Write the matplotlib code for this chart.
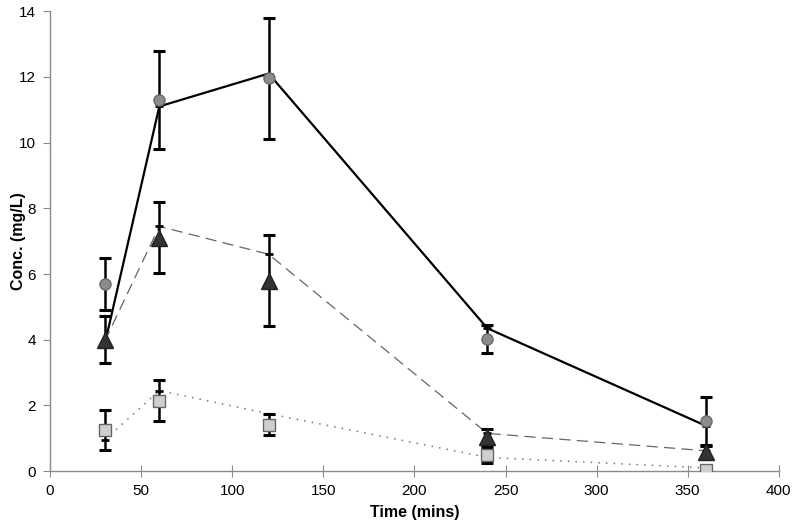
import matplotlib
matplotlib.use("Agg")
import matplotlib.pyplot as plt

plt.rcParams["font.family"] = ["Liberation Sans", "DejaVu Sans"]

# sampling times (mins)
times = [30, 60, 120, 240, 360]

# observed means and SD (circles / triangles / squares)
circ_mean = [5.7, 11.3, 11.95, 4.03, 1.52]
circ_err = [0.8, 1.5, 1.85, 0.42, 0.75]
tri_mean = [4.0, 7.1, 5.8, 1.05, 0.58]
tri_err = [0.72, 1.08, 1.38, 0.24, 0.22]
sq_mean = [1.25, 2.15, 1.42, 0.5, 0.05]
sq_err = [0.6, 0.62, 0.33, 0.25, 0.03]

# fitted curves
fit_solid = [3.85, 11.1, 12.1, 4.35, 1.38]
fit_dash = [3.95, 7.45, 6.6, 1.15, 0.62]
fit_dot = [0.95, 2.45, 1.75, 0.42, 0.1]

fig = plt.figure(figsize=(8.0, 5.3), dpi=100)
ax = fig.add_axes([0.0625, 0.111, 0.911, 0.868])

# fitted lines with small dash markers at each point
ax.plot(times, fit_solid, color="black", lw=1.6, marker="_", ms=6, mew=2, zorder=3)
ax.plot(times, fit_dash, color="#666666", lw=0.9, dashes=(9, 5), marker="_", ms=6, mew=2,
        markeredgecolor="black", zorder=3)
ax.plot(times, fit_dot, color="#777777", lw=1.1, dashes=(1, 4), marker="_", ms=6, mew=2,
        markeredgecolor="black", zorder=3)

# observed data with error bars
eb = dict(ecolor="black", elinewidth=1.8, capsize=4, capthick=2.2, ls="none", zorder=4)
ax.errorbar(times, circ_mean, yerr=circ_err, marker="o", ms=8, mfc="#8c8c8c", mec="#6a6a6a", **eb)
ax.errorbar(times, tri_mean, yerr=tri_err, marker="^", ms=11, mfc="#333333", mec="#222222", **eb)
ax.errorbar(times, sq_mean, yerr=sq_err, marker="s", ms=9, mfc="#cfcfcf", mec="#666666", **eb)

ax.set_xlim(0, 400)
ax.set_ylim(0, 14)
ax.set_xticks(range(0, 401, 50))
ax.set_yticks(range(0, 15, 2))

for s in ["top", "right"]:
    ax.spines[s].set_visible(False)
for s in ["left", "bottom"]:
    ax.spines[s].set_color("#8a8a8a")
    ax.spines[s].set_linewidth(1.0)

ax.tick_params(axis="y", direction="out", length=5, color="#8a8a8a", labelsize=11, pad=5)
ax.tick_params(axis="x", direction="inout", length=8, color="#8a8a8a", labelsize=11, pad=5)

ax.set_xlabel("Time (mins)", fontsize=11.5, fontweight="bold", labelpad=5)
ax.set_ylabel("Conc. (mg/L)", fontsize=11.5, fontweight="bold")
ax.yaxis.set_label_coords(-0.033, 0.5)

fig.savefig("out.png", dpi=100)
